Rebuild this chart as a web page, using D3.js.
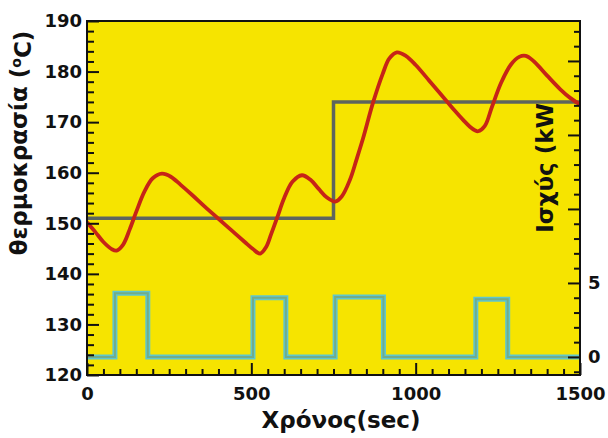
<!DOCTYPE html>
<html>
<head>
<meta charset="utf-8">
<script src="https://cdn.jsdelivr.net/npm/d3@7"></script>
<style>
  html, body { margin: 0; padding: 0; background: #ffffff; }
  svg { display: block; }
  text { font-family: "DejaVu Sans", sans-serif; font-weight: bold; fill: #111; }
</style>
</head>
<body>
<svg id="chart" width="608" height="438"></svg>
<script>
// Oven temperature response (°C), sampled over time (s)
const tempTime = [0, 25, 50, 75, 90, 110, 130, 150, 175, 200, 228, 255, 285,
  320, 360, 400, 440, 480, 505, 527, 545, 560, 578, 600, 625, 654,
  680, 705, 730, 755, 775, 800, 820, 840, 870, 900, 920, 943, 970, 1000,
  1040, 1070, 1095, 1120, 1145, 1165, 1180, 1190, 1210, 1232, 1260, 1290, 1315, 1335,
  1360, 1400, 1440, 1470, 1500];
const tempValue = [150.2, 148.3, 146.3, 144.9, 144.6, 145.8, 148.8, 152.3, 156.3,
  158.9, 159.8, 159.2, 157.6, 155.6, 153.2, 150.9, 148.6, 146.3, 144.9, 144.0,
  145.3, 147.8, 151.0, 155.0, 158.2, 159.5, 158.6, 156.8, 155.1, 154.3, 155.3,
  158.6, 162.6, 166.8, 173.8, 179.6, 182.6, 183.8, 183.1, 181.3, 178.3, 176.0,
  174.1, 172.2, 170.4, 169.1, 168.4, 168.2, 169.2, 173.0, 177.8, 181.4, 182.9,
  183.1, 182.0, 179.2, 176.5, 174.8, 173.5];

// Set-point (°C) — step change
const setTime = [0, 750, 1500];
const setValue = [151, 174, 174];

// Heater power (kW) — piecewise constant
const powerTime = [0, 85, 185, 505, 605, 755, 902, 1183, 1280, 1500];
const powerValue = [0, 4.3, 0, 4.0, 0, 4.05, 0, 3.9, 0, 0];

// Axis ticks and labels
const xTicks = [0, 500, 1000, 1500];
const yTicks = [120, 130, 140, 150, 160, 170, 180, 190];
const pTicks = [0, 5, 10, 15, 20];
const pLabels = [0, 5];
const xTitle = "Χρόνος(sec)";
const yTitleMain = "θερμοκρασία (";
const yTitleSup = "o";
const yTitleEnd = "C)";
const pTitle = "Ισχύς (kW";

const svg = d3.select("#chart");
const L = 87, R = 580, T = 21, B = 375;

const x = d3.scaleLinear().domain([0, 1500]).range([L, R]);
const yT = d3.scaleLinear().domain([120, 190]).range([B, T]);
const yP = d3.scaleLinear().domain([-1.22, 22.7]).range([B, T]);

// plot background
svg.append("rect").attr("x", L).attr("y", T).attr("width", R - L).attr("height", B - T)
  .attr("fill", "#f6e400");

svg.append("clipPath").attr("id", "plotclip")
  .append("rect").attr("x", L).attr("y", T).attr("width", R - L).attr("height", B - T);
const plot = svg.append("g").attr("clip-path", "url(#plotclip)");

// power trace
const powerLine = d3.line().x((d, i) => x(powerTime[i])).y(d => yP(d)).curve(d3.curveStepAfter);
plot.append("path").attr("d", powerLine(powerValue))
  .attr("fill", "none").attr("stroke", "#5ec6cf").attr("stroke-width", 5);
plot.append("path").attr("d", powerLine(powerValue))
  .attr("fill", "none").attr("stroke", "#74ad88").attr("stroke-width", 2);

// set-point trace
const setLine = d3.line().x((d, i) => x(setTime[i])).y(d => yT(d)).curve(d3.curveStepAfter);
plot.append("path").attr("d", setLine(setValue))
  .attr("fill", "none").attr("stroke", "#5e655e").attr("stroke-width", 3.5);

// temperature trace
const tempLine = d3.line().x((d, i) => x(tempTime[i])).y(d => yT(d))
  .curve(d3.curveCatmullRom.alpha(0.5));
plot.append("path").attr("d", tempLine(tempValue))
  .attr("fill", "none").attr("stroke", "#c62417").attr("stroke-width", 3.8)
  .attr("stroke-linejoin", "round");

// power axis title (inside plot)
svg.append("text")
  .attr("transform", "translate(553,168) rotate(-90)")
  .attr("text-anchor", "middle")
  .style("font-size", "23px")
  .text(pTitle);

function styleAxis(g) {
  g.select(".domain").remove();
  g.selectAll(".tick line").attr("stroke", "#111").attr("stroke-width", 2);
  g.selectAll(".tick text").style("font-size", "18px").style("font-family", "DejaVu Sans")
    .style("font-weight", "bold").attr("fill", "#111");
}

// bottom axis (inward ticks)
const xMinor = d3.range(0, 1501, 50).filter(v => !xTicks.includes(v));
svg.append("g").attr("transform", `translate(0,${B})`)
  .call(d3.axisBottom(x).tickValues(xMinor).tickSize(-6).tickFormat(""))
  .call(styleAxis);
svg.append("g").attr("transform", `translate(0,${B})`)
  .call(d3.axisBottom(x).tickValues(xTicks).tickSize(-12).tickPadding(12).tickFormat(d3.format("d")))
  .call(styleAxis);

// left axis
const yMinor = d3.range(120, 191, 2).filter(v => !yTicks.includes(v));
svg.append("g").attr("transform", `translate(${L},0)`)
  .call(d3.axisLeft(yT).tickValues(yMinor).tickSize(-7).tickFormat(""))
  .call(styleAxis);
svg.append("g").attr("transform", `translate(${L},0)`)
  .call(d3.axisLeft(yT).tickValues(yTicks).tickSize(-12).tickPadding(5).tickFormat(d3.format("d")))
  .call(styleAxis);

// right axis
const pMinor = d3.range(-1, 23, 1).filter(v => !pTicks.includes(v));
svg.append("g").attr("transform", `translate(${R},0)`)
  .call(d3.axisRight(yP).tickValues(pMinor).tickSize(-6).tickFormat(""))
  .call(styleAxis);
svg.append("g").attr("transform", `translate(${R},0)`)
  .call(d3.axisRight(yP).tickValues(pTicks).tickSize(-12).tickPadding(8)
    .tickFormat(d => pLabels.includes(d) ? d3.format("d")(d) : ""))
  .call(styleAxis);

// frame
svg.append("rect").attr("x", L).attr("y", T).attr("width", R - L).attr("height", B - T)
  .attr("fill", "none").attr("stroke", "#111").attr("stroke-width", 2);

// axis titles
svg.append("text")
  .attr("x", 341).attr("y", 428)
  .attr("text-anchor", "middle")
  .style("font-size", "23px")
  .text(xTitle);

const yt = svg.append("text")
  .attr("transform", "translate(27,143) rotate(-90)")
  .attr("text-anchor", "middle")
  .style("font-size", "23px");
yt.append("tspan").text(yTitleMain);
yt.append("tspan").attr("dy", "-0.45em").style("font-size", "14px").text(yTitleSup);
yt.append("tspan").attr("dy", "0.45em").text(yTitleEnd);
</script>
</body>
</html>
